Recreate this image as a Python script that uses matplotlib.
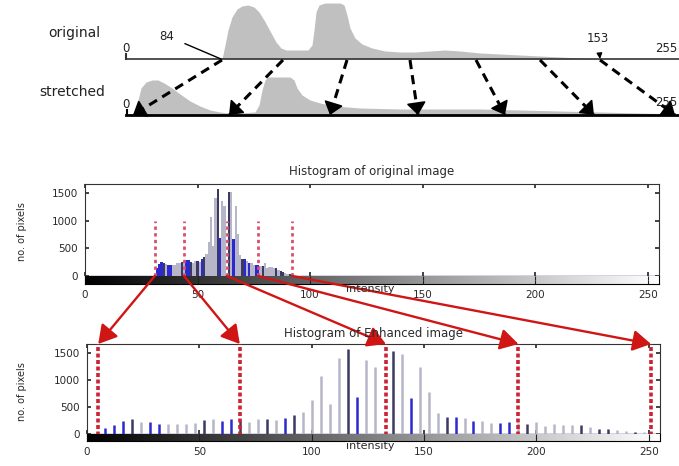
import matplotlib
matplotlib.use("Agg")
import matplotlib.pyplot as plt
import numpy as np
from matplotlib.patches import ConnectionPatch, FancyArrowPatch

plt.rcParams['font.family'] = ['DejaVu Sans']

# ---------------- data ----------------
# schematic (top): curve outlines in diagram units (x along axis, height above axis)
orig_curve_x = [222, 225, 228, 232, 237, 242, 248, 254, 259, 264, 270, 276, 281, 286, 300, 308,
                312, 314, 316, 319, 325, 340, 344, 347, 350, 355, 362, 372, 385, 400, 415, 430,
                445, 460, 480, 520, 560, 600]
orig_curve_h = [0, 14, 29, 42, 50, 53, 54, 52, 47, 39, 28, 17, 11, 9, 9, 9,
                14, 29, 47, 54, 56, 56, 54, 44, 31, 21, 15, 11, 8, 7, 7, 8,
                9, 8, 6, 4, 2, 0]
stretch_curve_x = [137, 138, 141, 146, 152, 158, 164, 172, 180, 190, 200, 210, 220, 228, 240, 255,
                   259, 262, 265, 268, 290, 294, 297, 302, 310, 320, 335, 360, 400, 440, 480, 520,
                   560, 600, 640, 679]
stretch_curve_h = [0, 15, 27, 33, 35, 35, 32, 27, 21, 14, 9, 5, 3, 2, 2, 3,
                   10, 25, 35, 38, 38, 35, 27, 20, 15, 12, 9, 7, 6, 6, 6, 5,
                   4, 3, 2, 1]
map_from_x = [222, 283, 347, 410, 476, 540, 600]
map_to_x = [133, 229, 330, 418, 505, 594, 675]

# histogram of original image (intensity level, count)
orig_levels = list(range(32, 93))
orig_counts = [150, 218, 260, 240, 215, 200, 200, 200, 200, 230, 240, 260, 280, 290, 290, 250,
               240, 280, 280, 260, 300, 350, 400, 620, 1075, 550, 1410, 1570, 680, 1365, 1260, 0,
               1530, 1520, 665, 1260, 760, 385, 310, 300, 280, 240, 230, 200, 200, 200, 190, 180,
               230, 150, 170, 160, 150, 140, 110, 90, 80, 60, 45, 35, 25]
orig_marks = [31, 44, 63, 77, 92]

# histogram of enhanced image
enh_levels = list(range(8, 249, 4))
enh_counts = [118, 167, 242, 273, 230, 230, 186, 186, 186, 186, 198, 260, 273, 242, 280, 250,
              230, 280, 280, 260, 305, 355, 400, 630, 1080, 550, 1410, 1575, 680, 1375, 1250, 0,
              1530, 1490, 665, 1250, 770, 385, 310, 310, 290, 242, 242, 198, 198, 217, 200, 180,
              230, 150, 186, 167, 167, 167, 136, 100, 87, 75, 50, 43, 37]
enh_marks = [5, 68, 133, 192, 251]

hist_ticks_x = [0, 50, 100, 150, 200, 250]
hist_ticks_y = [0, 500, 1000, 1500]

# ---------------- styles ----------------
shade_code = "bbbdlbblllldlbbdlldlbdllllldbllldlbllldblbllbbldllllldldd" + "lldlldll"
palette = {'b': '#2a2ad0', 'd': '#3a3a62', 'l': '#b6b6c8'}
TXT = '#2a2a2a'

W, H = 679, 466
fig = plt.figure(figsize=(W / 100, H / 100), dpi=100)


def px_axes(left, right, top, bottom, **kw):
    return fig.add_axes([left / W, 1 - bottom / H, (right - left) / W, (bottom - top) / H], **kw)


# ---------------- top schematic ----------------
axd = px_axes(0, W, 0, H)
axd.set_xlim(0, W)
axd.set_ylim(H, 0)
axd.axis('off')
axd.set_facecolor('none')

y_orig, y_str = 59, 115
ox = np.array(orig_curve_x)
oh = np.array(orig_curve_h)
axd.fill_between(ox, y_orig - oh, y_orig, color='#c0c0c0', lw=0)
sx = np.array(stretch_curve_x)
sh = np.array(stretch_curve_h)
axd.fill_between(sx, y_str - sh, y_str, color='#c0c0c0', lw=0)

axd.plot([126, W], [y_orig, y_orig], color='#333333', lw=1.2)
axd.plot([126, 126], [y_orig - 5, y_orig], color='#333333', lw=1.5)
axd.plot([126, W], [y_str, y_str], color='black', lw=2.0)
axd.plot([127, 127], [y_str - 5, y_str], color='black', lw=1.5)

for x0, x1 in zip(map_from_x, map_to_x):
    y0, y1 = y_orig + 1, y_str
    axd.plot([x0, x1], [y0, y1], color='black', lw=2.2, linestyle=(0, (3, 2)), solid_capstyle='butt')
    d = np.hypot(x1 - x0, y1 - y0)
    ux, uy = (x1 - x0) / d, (y1 - y0) / d
    head = FancyArrowPatch((x1 - 10 * ux, y1 - 10 * uy), (x1, y1),
                           arrowstyle='-|>,head_length=0.38,head_width=0.3',
                           mutation_scale=20, color='black', lw=1.2, shrinkA=0, shrinkB=0)
    axd.add_patch(head)

axd.text(100, 33, 'original', ha='right', va='center', fontsize=10, color='#222222')
axd.text(105, 92, 'stretched', ha='right', va='center', fontsize=10, color='#222222')
axd.text(126, 48, '0', ha='center', va='center', fontsize=8.5, color='#222222')
axd.text(126, 104, '0', ha='center', va='center', fontsize=8.5, color='#222222')
axd.text(677, 49, '255', ha='right', va='center', fontsize=8.5, color='#222222')
axd.text(677, 103, '255', ha='right', va='center', fontsize=8.5, color='#222222')
axd.annotate('84', xy=(221, 59), xytext=(167, 36), ha='center', va='center', fontsize=8.5,
             color='#222222', arrowprops=dict(arrowstyle='-', lw=1.0, color='black', shrinkA=6, shrinkB=0))
axd.annotate('153', xy=(600, 59), xytext=(598, 38), ha='center', va='center', fontsize=8.5,
             color='#222222', arrowprops=dict(arrowstyle='-|>', lw=1.0, color='black', shrinkA=5, shrinkB=0,
                                              mutation_scale=8))


# ---------------- histograms ----------------
def hist_panel(left, right, top, base, cb_bottom, levels, counts, width, lw_stem, title, title_y, label_y):
    ax = px_axes(left, right, top, base)
    cb = px_axes(left, right, base, cb_bottom)
    colors = [palette[c] for c in shade_code[:len(levels)]]
    ax.axhline(0, color='#22227a', lw=1.0, zorder=1)
    if width is not None:
        ax.bar(levels, counts, width=width, color=colors, zorder=2, linewidth=0)
    else:
        ax.vlines(levels, 0, counts, colors=colors, lw=lw_stem, zorder=2)
    ax.set_xlim(0, 255)
    ax.set_ylim(0, 1667)
    ax.set_xticks(hist_ticks_x)
    ax.set_yticks(hist_ticks_y)
    ax.tick_params(direction='in', length=3, top=True, right=True, labelbottom=False,
                   labelsize=7.5, labelcolor=TXT, color='#222222', width=1.2, pad=5)
    ax.spines['bottom'].set_visible(False)
    for s in ['left', 'right', 'top']:
        ax.spines[s].set_color('#333333')
    grad = np.linspace(0, 1, 256).reshape(1, -1)
    cb.imshow(grad, cmap='gray', aspect='auto', extent=[0, 255, 0, 1], vmin=0, vmax=1)
    cb.set_xlim(0, 255)
    cb.set_ylim(0, 1)
    cb.set_yticks([])
    cb.set_xticks(hist_ticks_x)
    cb.tick_params(direction='in', length=3, top=True, labelsize=7.5, labelcolor=TXT, color='#222222',
                   pad=4)
    cb.spines['top'].set_visible(False)
    fig.text((left + right) / 2 / W, 1 - title_y / H, title, ha='center', va='center', fontsize=8.5,
             color=TXT)
    fig.text(22 / W, 1 - label_y / H, 'no. of pixels', rotation=90, ha='center', va='center',
             fontsize=7, color=TXT)
    fig.text(370 / W, 1 - (cb_bottom + 5) / H, 'intensity', ha='center', va='center', fontsize=8,
             color=TXT)
    return ax, cb


ax1, cb1 = hist_panel(85, 659, 184, 276, 284, orig_levels, orig_counts, 1.0, None,
                      'Histogram of original image', 172, 232)
ax2, cb2 = hist_panel(87, 660, 344, 434, 441, enh_levels, enh_counts, None, 1.8,
                      'Histogram of Enhanced image', 333, 392)

ax1.vlines(orig_marks, 0, 1000, colors='#d8506e', linestyles=(0, (1.2, 1.2)), lw=2.0, zorder=3)
for m in enh_marks:
    ax2.axvline(m, ymin=-0.085, ymax=1.0, color='#cc2233', lw=2.6, linestyle=(0, (1.1, 0.7)),
                clip_on=False, zorder=4)

for a, b in zip(orig_marks, enh_marks):
    con = ConnectionPatch(xyA=(a, 0), coordsA='data', axesA=ax1,
                          xyB=(b, 1667), coordsB='data', axesB=ax2,
                          arrowstyle='-|>,head_length=0.55,head_width=0.32', mutation_scale=20,
                          color='#d01515', lw=1.7, shrinkA=0, shrinkB=0)
    fig.add_artist(con)

fig.savefig('out.png', dpi=100)
